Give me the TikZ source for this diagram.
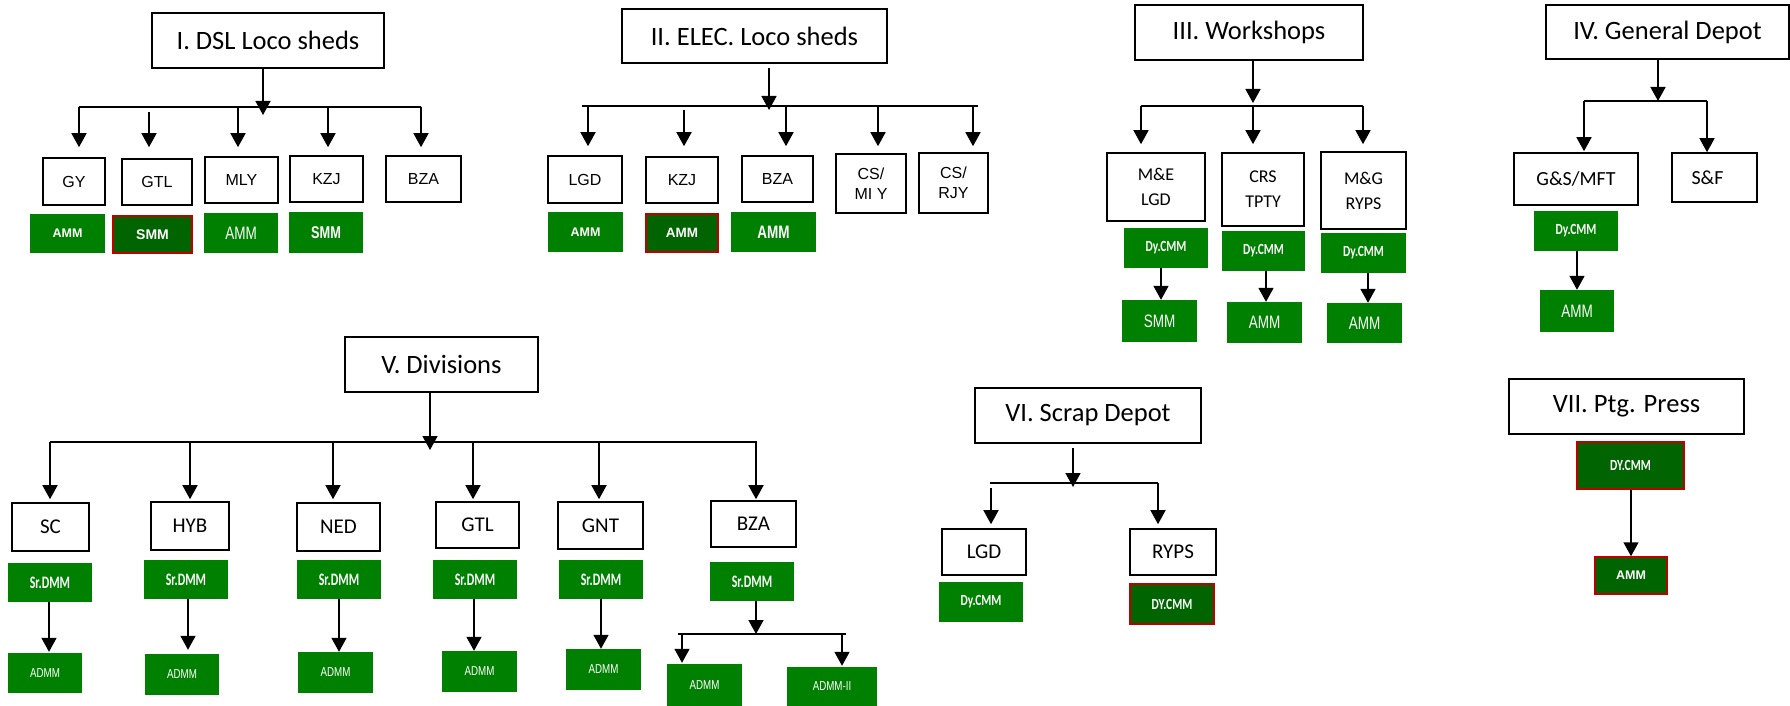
\documentclass[tikz,border=0pt]{standalone}
\usepackage{fontspec}
\setmainfont{Carlito}
\newfontfamily\carl{Carlito}
\newfontfamily\arialf{Liberation Sans}
\newfontfamily\condC{Carlito}[FakeStretch=0.74]
\newfontfamily\condS{Carlito}[FakeStretch=0.68]
\newfontfamily\condA{Liberation Sans}[FakeStretch=0.75]
\usetikzlibrary{arrows.meta}
\definecolor{grn}{RGB}{0,128,0}
\definecolor{dgrn}{RGB}{0,100,0}
\definecolor{redb}{RGB}{192,0,0}
\newcommand{\fs}[2]{\fontsize{#1}{#2}\selectfont}
\newcommand{\mybox}[7]{\node[#6, minimum width={(#4)-(#2)}, minimum height={(#5)-(#3)}] (#1) at ({((#2)+(#4))/2},{((#3)+(#5))/2}) {#7};}
\newcommand{\kid}[4]{\coordinate (k) at (#1,#2); \path (k |- #3.north) coordinate (k2); \draw[arr] (k) -- ([yshift=#4]k2);}
\newcommand{\dn}[4]{\coordinate (k) at (#1,0); \path (#2.south -| k) coordinate (k1) (k |- #3.north) coordinate (k2); \draw[arr] (k1) -- ([yshift=#4]k2);}
\tikzset{
 hdr/.style={draw, line width=1.6pt, inner sep=0pt, font=\carl\fs{26.5}{30}},
 boxA/.style={draw, line width=1.6pt, inner sep=0pt, align=center, font=\arialf\fs{16}{20}},
 boxC/.style={draw, line width=1.6pt, inner sep=0pt, align=center, font=\carl\fs{18}{25}},
 gb/.style={fill=grn, inner sep=0pt, text=white},
 db/.style={fill=dgrn, draw=redb, line width=1.5pt, inner sep=0pt, text=white},
 arr/.style={line width=1.6pt, -{Triangle[width=15pt,length=14pt]}},
 ln/.style={line width=1.6pt},
 fdy/.style={font=\condC\bfseries\fs{15.5}{17}},
 fam/.style={font=\condA\fs{18}{20}},
 fab/.style={font=\arialf\bfseries\fs{13}{15}},
}
\begin{document}
\begin{tikzpicture}[x=1pt,y=-1pt]
\useasboundingbox (0,0) rectangle (1790,706);
% ---------- I ----------
\mybox{h1}{152}{13}{384}{68}{hdr}{I. DSL Loco sheds}
\mybox{igy}{43}{158}{105}{205}{boxA}{GY}
\mybox{igtl}{122}{159}{192}{205}{boxA}{GTL}
\mybox{imly}{205}{157}{278}{203}{boxA}{MLY}
\mybox{ikzj}{290}{156}{363}{202}{boxA}{KZJ}
\mybox{ibza}{386}{156}{461}{202}{boxA}{BZA}
\mybox{ig1}{30}{214}{105}{253}{gb,fab,font=\arialf\bfseries\fs{12.5}{15}}{AMM}
\mybox{ig2}{113}{216}{192}{253}{db,fab,font=\arialf\bfseries\fs{14}{16}}{SMM}
\mybox{ig3}{204}{213}{278}{253}{gb,font=\condA\fs{18}{20}}{AMM}
\mybox{ig4}{289}{212}{363}{253}{gb,font=\condA\bfseries\fs{17}{20}}{SMM}
\coordinate (b1l) at (79,107); \coordinate (b1r) at (421,107);
\draw[ln] (b1l) -- (b1r);
\coordinate (m1) at (263,115);
\draw[arr] (h1.south -| m1) -- (m1);
\kid{79}{107}{igy}{10pt}
\kid{149}{112}{igtl}{11pt}
\kid{238}{107}{imly}{9pt}
\kid{328}{107}{ikzj}{8pt}
\kid{421}{107}{ibza}{8pt}
% ---------- II ----------
\mybox{h2}{622}{9}{887}{63}{hdr}{II. ELEC. Loco sheds}
\mybox{iilgd}{548}{156}{622}{203}{boxA}{LGD}
\mybox{iikzj}{646}{157}{718}{203}{boxA}{KZJ}
\mybox{iibza}{742}{156}{813}{202}{boxA}{BZA}
\mybox{iics1}{836}{154}{906}{213}{boxA}{CS/\\MI Y}
\mybox{iics2}{919}{153}{988}{213}{boxA}{CS/\\RJY}
\mybox{iig1}{548}{212}{623}{252}{gb,fab,font=\arialf\bfseries\fs{12.5}{15}}{AMM}
\mybox{iig2}{646}{214}{718}{252}{db,fab,font=\arialf\bfseries\fs{13.5}{16}}{AMM}
\mybox{iig3}{731}{212}{816}{252}{gb,font=\condA\bfseries\fs{18}{20}}{AMM}
\coordinate (b2l) at (582,106); \coordinate (b2r) at (978,106);
\draw[ln] (b2l) -- (b2r);
\coordinate (m2) at (769,110);
\draw[arr] ([yshift=-4pt]h2.south -| m2) -- (m2);
\kid{588}{106}{iilgd}{9pt}
\kid{684}{110}{iikzj}{10pt}
\kid{786}{106}{iibza}{9pt}
\kid{878}{106}{iics1}{7pt}
\kid{973}{106}{iics2}{6pt}
% ---------- III ----------
\mybox{h3}{1135}{5}{1363}{60}{hdr}{III. Workshops}
\mybox{iiia}{1107}{153}{1205}{221}{boxC}{M\&E\\LGD}
\mybox{iiib}{1222}{153}{1304}{226}{boxC}{CRS\\TPTY}
\mybox{iiic}{1321}{152}{1406}{229}{boxC}{M\&G\\RYPS}
\mybox{iiid1}{1124}{228}{1208}{268}{gb,fdy}{Dy.CMM}
\mybox{iiid2}{1222}{231}{1305}{271}{gb,fdy}{Dy.CMM}
\mybox{iiid3}{1321}{233}{1406}{273}{gb,fdy}{Dy.CMM}
\mybox{iiie1}{1122}{300}{1197}{342}{gb,fam}{SMM}
\mybox{iiie2}{1227}{302}{1302}{343}{gb,fam}{AMM}
\mybox{iiie3}{1327}{303}{1402}{343}{gb,fam}{AMM}
\coordinate (b3l) at (1141,106); \coordinate (b3r) at (1363,106);
\draw[ln] (b3l) -- (b3r);
\coordinate (m3) at (1253,103);
\draw[arr] (h3.south -| m3) -- (m3);
\kid{1141}{106}{iiia}{8pt}
\kid{1253}{106}{iiib}{8pt}
\kid{1363}{106}{iiic}{7pt}
\dn{1161}{iiid1}{iiie1}{0pt}
\dn{1266}{iiid2}{iiie2}{0pt}
\dn{1368}{iiid3}{iiie3}{0pt}
% ---------- IV ----------
\mybox{h4}{1546}{5}{1789}{59}{hdr}{IV. General Depot}
\mybox{iva}{1514}{153}{1638}{205}{boxC,font=\carl\fs{20}{22}}{G\&S/MFT}
\mybox{ivb}{1672}{153}{1757}{202}{boxC,font=\carl\fs{20}{22}}{S\&F\hspace{14pt}}
\mybox{ivd}{1534}{211}{1618}{251}{gb,fdy}{Dy.CMM}
\mybox{ive}{1540}{290}{1614}{332}{gb,fam}{AMM}
\coordinate (b4l) at (1584,101); \coordinate (b4r) at (1707,101);
\draw[ln] (b4l) -- (b4r);
\coordinate (m4) at (1658,101);
\draw[arr] (h4.south -| m4) -- (m4);
\kid{1584}{101}{iva}{1pt}
\kid{1707}{101}{ivb}{0pt}
\dn{1577}{ivd}{ive}{0pt}
% ---------- V ----------
\mybox{h5}{345}{337}{538}{392}{hdr}{V. Divisions}
\mybox{vsc}{12}{503}{89}{551}{boxC,font=\carl\fs{21}{24}}{SC}
\mybox{vhyb}{151}{502}{229}{550}{boxC,font=\carl\fs{21}{24}}{HYB}
\mybox{vned}{297}{503}{380}{551}{boxC,font=\carl\fs{21}{24}}{NED}
\mybox{vgtl}{436}{502}{519}{548}{boxC,font=\carl\fs{21}{24}}{GTL}
\mybox{vgnt}{558}{502}{643}{549}{boxC,font=\carl\fs{21}{24}}{GNT}
\mybox{vbza}{711}{501}{796}{547}{boxC,font=\carl\fs{21}{24}}{BZA}
\tikzset{fsr/.style={font=\condS\bfseries\fs{17.5}{19}}, fad/.style={font=\condA\fs{13}{14}}}
\mybox{vs1}{8}{563}{92}{602}{gb,fsr}{Sr.DMM}
\mybox{vs2}{144}{560}{228}{599}{gb,fsr}{Sr.DMM}
\mybox{vs3}{297}{560}{381}{599}{gb,fsr}{Sr.DMM}
\mybox{vs4}{433}{560}{517}{599}{gb,fsr}{Sr.DMM}
\mybox{vs5}{559}{560}{643}{599}{gb,fsr}{Sr.DMM}
\mybox{vs6}{710}{562}{794}{601}{gb,fsr}{Sr.DMM}
\mybox{va1}{8}{653}{82}{693}{gb,fad}{ADMM}
\mybox{va2}{145}{654}{219}{695}{gb,fad}{ADMM}
\mybox{va3}{298}{652}{373}{693}{gb,fad}{ADMM}
\mybox{va4}{442}{651}{517}{692}{gb,fad}{ADMM}
\mybox{va5}{566}{649}{641}{690}{gb,fad}{ADMM}
\mybox{va6}{667}{664}{742}{706}{gb,fad}{ADMM}
\mybox{va7}{787}{667}{877}{706}{gb,fad}{ADMM-II}
\coordinate (b5l) at (50,442); \coordinate (b5r) at (757,442);
\draw[ln] (b5l) -- (b5r);
\coordinate (m5) at (430,450);
\draw[arr] (h5.south -| m5) -- (m5);
\kid{50}{442}{vsc}{3pt}
\kid{190}{442}{vhyb}{2pt}
\kid{333}{442}{vned}{3pt}
\kid{473}{442}{vgtl}{2pt}
\kid{599}{442}{vgnt}{2pt}
\kid{756}{442}{vbza}{1pt}
\dn{49}{vs1}{va1}{1pt}
\dn{188}{vs2}{va2}{4pt}
\dn{339}{vs3}{va3}{0pt}
\dn{474}{vs4}{va4}{0pt}
\dn{601}{vs5}{va5}{0pt}
\coordinate (b6l) at (678,634); \coordinate (b6r) at (846,634);
\draw[ln] (b6l) -- (b6r);
\coordinate (m6) at (756,634);
\draw[arr] (vs6.south -| m6) -- (m6);
\kid{682}{634}{va6}{1pt}
\kid{842}{634}{va7}{1pt}
% ---------- VI ----------
\mybox{h6}{975}{388}{1201}{443}{hdr}{VI. Scrap Depot}
\mybox{via}{942}{529}{1026}{575}{boxC,font=\carl\fs{21}{24}}{LGD}
\mybox{vib}{1130}{529}{1216}{575}{boxC,font=\carl\fs{21}{24}}{RYPS}
\mybox{vid1}{939}{582}{1023}{622}{gb,fdy}{Dy.CMM}
\mybox{vid2}{1130}{584}{1214}{624}{db,fdy}{DY.CMM}
\coordinate (b7l) at (990,483); \coordinate (b7r) at (1158,483);
\draw[ln] (b7l) -- (b7r);
\coordinate (m7) at (1073,487);
\draw[arr] ([yshift=-4pt]h6.south -| m7) -- (m7);
\kid{991}{488}{via}{4pt}
\kid{1158}{483}{vib}{4pt}
% ---------- VII ----------
\mybox{h7}{1509}{379}{1744}{434}{hdr}{VII. Ptg. Press}
\mybox{viid}{1577}{442}{1684}{489}{db,fdy}{DY.CMM}
\mybox{viie}{1595}{557}{1667}{594}{db,fab,font=\arialf\bfseries\fs{12.5}{14}}{AMM}
\dn{1631}{viid}{viie}{0pt}
\end{tikzpicture}
\end{document}
